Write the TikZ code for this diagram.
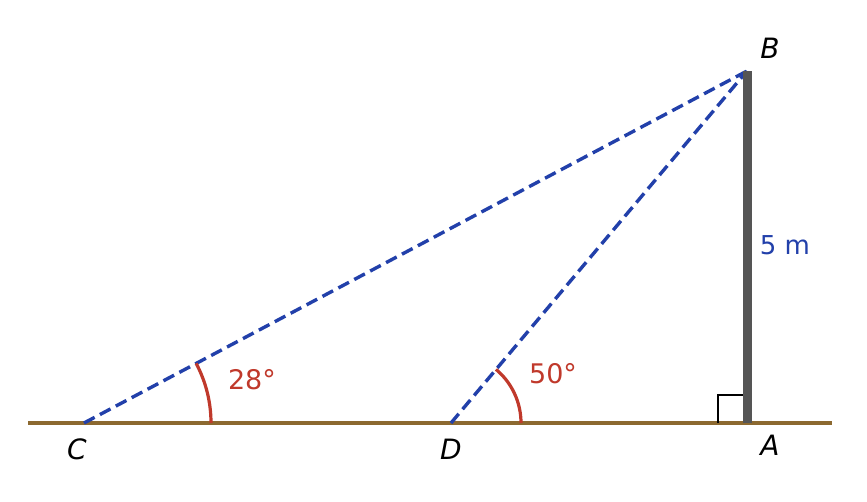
\documentclass[tikz,border=0pt]{standalone}
\usepackage{fontspec}
\setmainfont{DejaVu Sans}
\definecolor{rayblue}{RGB}{34,64,170}
\definecolor{anglered}{RGB}{192,57,43}
\definecolor{groundbrown}{RGB}{140,105,48}
\definecolor{polegray}{RGB}{85,85,85}
\usetikzlibrary{positioning}

\begin{document}
\begin{tikzpicture}[x=1pt,y=1pt,
    ray/.style={rayblue,line width=3.4pt,dash pattern=on 12pt off 6pt},
    anglearc/.style={anglered,line width=3.2pt},
    pointlbl/.style={inner sep=0pt,font=\fontsize{28}{30}\selectfont\itshape},
    anglelbl/.style={inner sep=0pt,anglered,font=\fontsize{27}{30}\selectfont}]
    \useasboundingbox (0,0) rectangle (867,501);
    \coordinate (gl) at ( 28, 78);
    \coordinate (gr) at (832, 78);
    \coordinate (C)  at ( 84, 78);
    \coordinate (D)  at (451, 78);
    \coordinate (A)  at (747, 78);
    \coordinate (B)  at (747,430);
    \draw[groundbrown,line width=3.2pt] (gl) -- (gr);
    \draw[black,line width=2.8pt] (718,78) |- (747,106);
    \draw[ray] (C) -- (B);
    \draw[ray] (D) -- (B);
    \draw[polegray,line width=9pt] (A) -- (B);
    \draw[anglearc] ([xshift=127pt]C) arc[start angle=0,end angle=28,radius=127];
    \draw[anglearc] ([xshift= 70pt]D) arc[start angle=0,end angle=50,radius= 70];
    \node[pointlbl] (lB) at (770,453) {B};
    \node[pointlbl] (lA) at (770, 56) {A};
    \node[pointlbl] (lC) at ( 77, 52) {C};
    \node[pointlbl] (lD) at (451, 52) {D};
    \node[anglelbl] (a28) at (252,121) {28°};
    \node[anglelbl] (a50) at (553,127) {50°};
    \node[inner sep=0pt,rayblue,font=\fontsize{26}{30}\selectfont] (h) at (785,256) {5 m};
\end{tikzpicture}
\end{document}
